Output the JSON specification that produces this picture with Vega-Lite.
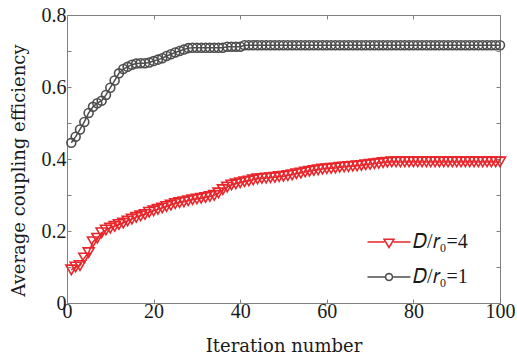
{
  "$schema": "https://vega.github.io/schema/vega-lite/v6.json",
  "width": 433,
  "height": 288,
  "autosize": {"type": "none"},
  "padding": {"left": 67, "top": 15, "right": 17, "bottom": 58},
  "background": "white",
  "config": {
    "view": {"stroke": "#808080", "strokeWidth": 1},
    "font": "Liberation Serif",
    "axis": {
      "grid": false,
      "domainColor": "#808080",
      "tickColor": "#808080",
      "tickSize": -4,
      "labelFlush": false,
      "labelFont": "Liberation Serif",
      "labelFontSize": 20,
      "labelColor": "#1a1a1a",
      "titleFont": "DejaVu Serif",
      "titleFontSize": 18,
      "titleFontWeight": "normal",
      "titleColor": "#1a1a1a"
    }
  },
  "data": {
    "values": [
      {"x":1,"y":0.445,"s":"D/r₀=1"},{"x":2,"y":0.462,"s":"D/r₀=1"},{"x":3,"y":0.482,"s":"D/r₀=1"},{"x":4,"y":0.503,"s":"D/r₀=1"},{"x":5,"y":0.528,"s":"D/r₀=1"},
      {"x":6,"y":0.545,"s":"D/r₀=1"},{"x":7,"y":0.555,"s":"D/r₀=1"},{"x":8,"y":0.562,"s":"D/r₀=1"},{"x":9,"y":0.578,"s":"D/r₀=1"},{"x":10,"y":0.598,"s":"D/r₀=1"},
      {"x":11,"y":0.618,"s":"D/r₀=1"},{"x":12,"y":0.638,"s":"D/r₀=1"},{"x":13,"y":0.650,"s":"D/r₀=1"},{"x":14,"y":0.656,"s":"D/r₀=1"},{"x":15,"y":0.662,"s":"D/r₀=1"},
      {"x":16,"y":0.665,"s":"D/r₀=1"},{"x":17,"y":0.666,"s":"D/r₀=1"},{"x":18,"y":0.666,"s":"D/r₀=1"},{"x":19,"y":0.668,"s":"D/r₀=1"},{"x":20,"y":0.672,"s":"D/r₀=1"},
      {"x":21,"y":0.676,"s":"D/r₀=1"},{"x":22,"y":0.680,"s":"D/r₀=1"},{"x":23,"y":0.686,"s":"D/r₀=1"},{"x":24,"y":0.691,"s":"D/r₀=1"},{"x":25,"y":0.696,"s":"D/r₀=1"},
      {"x":26,"y":0.700,"s":"D/r₀=1"},{"x":27,"y":0.704,"s":"D/r₀=1"},{"x":28,"y":0.708,"s":"D/r₀=1"},{"x":29,"y":0.709,"s":"D/r₀=1"},{"x":30,"y":0.709,"s":"D/r₀=1"},
      {"x":31,"y":0.709,"s":"D/r₀=1"},{"x":32,"y":0.709,"s":"D/r₀=1"},{"x":33,"y":0.709,"s":"D/r₀=1"},{"x":34,"y":0.709,"s":"D/r₀=1"},{"x":35,"y":0.709,"s":"D/r₀=1"},
      {"x":36,"y":0.709,"s":"D/r₀=1"},{"x":37,"y":0.712,"s":"D/r₀=1"},{"x":38,"y":0.712,"s":"D/r₀=1"},{"x":39,"y":0.712,"s":"D/r₀=1"},{"x":40,"y":0.712,"s":"D/r₀=1"},
      {"x":41,"y":0.716,"s":"D/r₀=1"},{"x":42,"y":0.716,"s":"D/r₀=1"},{"x":43,"y":0.716,"s":"D/r₀=1"},{"x":44,"y":0.716,"s":"D/r₀=1"},{"x":45,"y":0.716,"s":"D/r₀=1"},
      {"x":46,"y":0.716,"s":"D/r₀=1"},{"x":47,"y":0.716,"s":"D/r₀=1"},{"x":48,"y":0.716,"s":"D/r₀=1"},{"x":49,"y":0.716,"s":"D/r₀=1"},{"x":50,"y":0.716,"s":"D/r₀=1"},
      {"x":51,"y":0.716,"s":"D/r₀=1"},{"x":52,"y":0.716,"s":"D/r₀=1"},{"x":53,"y":0.716,"s":"D/r₀=1"},{"x":54,"y":0.716,"s":"D/r₀=1"},{"x":55,"y":0.716,"s":"D/r₀=1"},
      {"x":56,"y":0.716,"s":"D/r₀=1"},{"x":57,"y":0.716,"s":"D/r₀=1"},{"x":58,"y":0.716,"s":"D/r₀=1"},{"x":59,"y":0.716,"s":"D/r₀=1"},{"x":60,"y":0.716,"s":"D/r₀=1"},
      {"x":61,"y":0.716,"s":"D/r₀=1"},{"x":62,"y":0.716,"s":"D/r₀=1"},{"x":63,"y":0.716,"s":"D/r₀=1"},{"x":64,"y":0.716,"s":"D/r₀=1"},{"x":65,"y":0.716,"s":"D/r₀=1"},
      {"x":66,"y":0.716,"s":"D/r₀=1"},{"x":67,"y":0.716,"s":"D/r₀=1"},{"x":68,"y":0.716,"s":"D/r₀=1"},{"x":69,"y":0.716,"s":"D/r₀=1"},{"x":70,"y":0.716,"s":"D/r₀=1"},
      {"x":71,"y":0.716,"s":"D/r₀=1"},{"x":72,"y":0.716,"s":"D/r₀=1"},{"x":73,"y":0.716,"s":"D/r₀=1"},{"x":74,"y":0.716,"s":"D/r₀=1"},{"x":75,"y":0.716,"s":"D/r₀=1"},
      {"x":76,"y":0.716,"s":"D/r₀=1"},{"x":77,"y":0.716,"s":"D/r₀=1"},{"x":78,"y":0.716,"s":"D/r₀=1"},{"x":79,"y":0.716,"s":"D/r₀=1"},{"x":80,"y":0.716,"s":"D/r₀=1"},
      {"x":81,"y":0.716,"s":"D/r₀=1"},{"x":82,"y":0.716,"s":"D/r₀=1"},{"x":83,"y":0.716,"s":"D/r₀=1"},{"x":84,"y":0.716,"s":"D/r₀=1"},{"x":85,"y":0.716,"s":"D/r₀=1"},
      {"x":86,"y":0.716,"s":"D/r₀=1"},{"x":87,"y":0.716,"s":"D/r₀=1"},{"x":88,"y":0.716,"s":"D/r₀=1"},{"x":89,"y":0.716,"s":"D/r₀=1"},{"x":90,"y":0.716,"s":"D/r₀=1"},
      {"x":91,"y":0.716,"s":"D/r₀=1"},{"x":92,"y":0.716,"s":"D/r₀=1"},{"x":93,"y":0.716,"s":"D/r₀=1"},{"x":94,"y":0.716,"s":"D/r₀=1"},{"x":95,"y":0.716,"s":"D/r₀=1"},
      {"x":96,"y":0.716,"s":"D/r₀=1"},{"x":97,"y":0.716,"s":"D/r₀=1"},{"x":98,"y":0.716,"s":"D/r₀=1"},{"x":99,"y":0.716,"s":"D/r₀=1"},{"x":100,"y":0.716,"s":"D/r₀=1"},
      {"x":1,"y":0.092,"s":"D/r₀=4"},{"x":2,"y":0.100,"s":"D/r₀=4"},{"x":3,"y":0.104,"s":"D/r₀=4"},{"x":4,"y":0.125,"s":"D/r₀=4"},{"x":5,"y":0.140,"s":"D/r₀=4"},
      {"x":6,"y":0.170,"s":"D/r₀=4"},{"x":7,"y":0.180,"s":"D/r₀=4"},{"x":8,"y":0.195,"s":"D/r₀=4"},{"x":9,"y":0.203,"s":"D/r₀=4"},{"x":10,"y":0.208,"s":"D/r₀=4"},
      {"x":11,"y":0.213,"s":"D/r₀=4"},{"x":12,"y":0.218,"s":"D/r₀=4"},{"x":13,"y":0.222,"s":"D/r₀=4"},{"x":14,"y":0.228,"s":"D/r₀=4"},{"x":15,"y":0.233,"s":"D/r₀=4"},
      {"x":16,"y":0.238,"s":"D/r₀=4"},{"x":17,"y":0.242,"s":"D/r₀=4"},{"x":18,"y":0.246,"s":"D/r₀=4"},{"x":19,"y":0.252,"s":"D/r₀=4"},{"x":20,"y":0.256,"s":"D/r₀=4"},
      {"x":21,"y":0.260,"s":"D/r₀=4"},{"x":22,"y":0.264,"s":"D/r₀=4"},{"x":23,"y":0.268,"s":"D/r₀=4"},{"x":24,"y":0.272,"s":"D/r₀=4"},{"x":25,"y":0.276,"s":"D/r₀=4"},
      {"x":26,"y":0.279,"s":"D/r₀=4"},{"x":27,"y":0.281,"s":"D/r₀=4"},{"x":28,"y":0.284,"s":"D/r₀=4"},{"x":29,"y":0.287,"s":"D/r₀=4"},{"x":30,"y":0.289,"s":"D/r₀=4"},
      {"x":31,"y":0.291,"s":"D/r₀=4"},{"x":32,"y":0.293,"s":"D/r₀=4"},{"x":33,"y":0.296,"s":"D/r₀=4"},{"x":34,"y":0.299,"s":"D/r₀=4"},{"x":35,"y":0.306,"s":"D/r₀=4"},
      {"x":36,"y":0.315,"s":"D/r₀=4"},{"x":37,"y":0.322,"s":"D/r₀=4"},{"x":38,"y":0.328,"s":"D/r₀=4"},{"x":39,"y":0.331,"s":"D/r₀=4"},{"x":40,"y":0.334,"s":"D/r₀=4"},
      {"x":41,"y":0.337,"s":"D/r₀=4"},{"x":42,"y":0.339,"s":"D/r₀=4"},{"x":43,"y":0.342,"s":"D/r₀=4"},{"x":44,"y":0.345,"s":"D/r₀=4"},{"x":45,"y":0.346,"s":"D/r₀=4"},
      {"x":46,"y":0.347,"s":"D/r₀=4"},{"x":47,"y":0.348,"s":"D/r₀=4"},{"x":48,"y":0.349,"s":"D/r₀=4"},{"x":49,"y":0.351,"s":"D/r₀=4"},{"x":50,"y":0.352,"s":"D/r₀=4"},
      {"x":51,"y":0.354,"s":"D/r₀=4"},{"x":52,"y":0.356,"s":"D/r₀=4"},{"x":53,"y":0.359,"s":"D/r₀=4"},{"x":54,"y":0.361,"s":"D/r₀=4"},{"x":55,"y":0.364,"s":"D/r₀=4"},
      {"x":56,"y":0.366,"s":"D/r₀=4"},{"x":57,"y":0.368,"s":"D/r₀=4"},{"x":58,"y":0.370,"s":"D/r₀=4"},{"x":59,"y":0.372,"s":"D/r₀=4"},{"x":60,"y":0.373,"s":"D/r₀=4"},
      {"x":61,"y":0.374,"s":"D/r₀=4"},{"x":62,"y":0.375,"s":"D/r₀=4"},{"x":63,"y":0.377,"s":"D/r₀=4"},{"x":64,"y":0.378,"s":"D/r₀=4"},{"x":65,"y":0.379,"s":"D/r₀=4"},
      {"x":66,"y":0.380,"s":"D/r₀=4"},{"x":67,"y":0.381,"s":"D/r₀=4"},{"x":68,"y":0.382,"s":"D/r₀=4"},{"x":69,"y":0.384,"s":"D/r₀=4"},{"x":70,"y":0.385,"s":"D/r₀=4"},
      {"x":71,"y":0.387,"s":"D/r₀=4"},{"x":72,"y":0.388,"s":"D/r₀=4"},{"x":73,"y":0.390,"s":"D/r₀=4"},{"x":74,"y":0.391,"s":"D/r₀=4"},{"x":75,"y":0.392,"s":"D/r₀=4"},
      {"x":76,"y":0.392,"s":"D/r₀=4"},{"x":77,"y":0.392,"s":"D/r₀=4"},{"x":78,"y":0.392,"s":"D/r₀=4"},{"x":79,"y":0.392,"s":"D/r₀=4"},{"x":80,"y":0.392,"s":"D/r₀=4"},
      {"x":81,"y":0.392,"s":"D/r₀=4"},{"x":82,"y":0.392,"s":"D/r₀=4"},{"x":83,"y":0.392,"s":"D/r₀=4"},{"x":84,"y":0.392,"s":"D/r₀=4"},{"x":85,"y":0.392,"s":"D/r₀=4"},
      {"x":86,"y":0.392,"s":"D/r₀=4"},{"x":87,"y":0.392,"s":"D/r₀=4"},{"x":88,"y":0.392,"s":"D/r₀=4"},{"x":89,"y":0.392,"s":"D/r₀=4"},{"x":90,"y":0.392,"s":"D/r₀=4"},
      {"x":91,"y":0.392,"s":"D/r₀=4"},{"x":92,"y":0.392,"s":"D/r₀=4"},{"x":93,"y":0.392,"s":"D/r₀=4"},{"x":94,"y":0.392,"s":"D/r₀=4"},{"x":95,"y":0.392,"s":"D/r₀=4"},
      {"x":96,"y":0.392,"s":"D/r₀=4"},{"x":97,"y":0.392,"s":"D/r₀=4"},{"x":98,"y":0.392,"s":"D/r₀=4"},{"x":99,"y":0.392,"s":"D/r₀=4"},{"x":100,"y":0.392,"s":"D/r₀=4"}
    ]
  },
  "resolve": {"axis": {"x": "independent", "y": "independent"}},
  "layer": [
    {
      "mark": {"type": "line", "strokeWidth": 1.5},
      "encoding": {
        "x": {"field": "x", "type": "quantitative", "scale": {"domain": [0, 100], "nice": false}, "axis": {"values": [0, 20, 40, 60, 80, 100], "title": "Iteration number", "labelPadding": 2, "titlePadding": 16}},
        "y": {"field": "y", "type": "quantitative", "scale": {"domain": [0, 0.8], "nice": false}, "axis": {"values": [0, 0.1, 0.2, 0.3, 0.4, 0.5, 0.6, 0.7, 0.8], "labelExpr": "round(datum.value * 10) % 2 == 0 ? format(datum.value, '~g') : ''", "title": "Average coupling efficiency", "labelPadding": 5, "titlePadding": 13, "titleY": 155}},
        "color": {"field": "s", "type": "nominal", "scale": {"domain": ["D/r₀=4", "D/r₀=1"], "range": ["#e8262b", "#4d4d4d"]},
          "legend": {
            "orient": "none", "legendX": 312, "legendY": 217, "title": null, "padding": 0,
            "symbolSize": 100, "symbolStrokeWidth": 1.5, "labelOffset": 14, "rowPadding": 15,
            "labelFont": "Liberation Serif", "labelFontSize": 20, "labelColor": "#1a1a1a",
            "labelExpr": "datum.value == 'D/r₀=4' ? '𝐷/𝑟₀=4' : '𝐷/𝑟₀=1'",
            "symbolType": {"expr": "datum.value == 'D/r₀=4' ? 'M-4.3,0L-0.9,0M0.9,0L4.3,0M-1,-0.55L1,-0.55L0,1.1Z' : 'M-4.3,0L-0.7,0M0.7,0L4.3,0M0.7,0L0.606,0.35L0.35,0.606L0,0.7L-0.35,0.606L-0.606,0.35L-0.7,0L-0.606,-0.35L-0.35,-0.606L0,-0.7L0.35,-0.606L0.606,-0.35Z'"}
          }
        },
        "detail": {"field": "s"}
      }
    },
    {
      "transform": [{"filter": "datum.s == 'D/r₀=4'"}],
      "mark": {"type": "point", "shape": "triangle-down", "filled": false, "stroke": "#e8262b", "strokeWidth": 1.6, "size": 120, "opacity": 1},
      "encoding": {
        "x": {"field": "x", "type": "quantitative", "axis": null},
        "y": {"field": "y", "type": "quantitative", "axis": null}
      }
    },
    {
      "transform": [{"filter": "datum.s == 'D/r₀=1'"}],
      "mark": {"type": "point", "shape": "circle", "filled": false, "stroke": "#4d4d4d", "strokeWidth": 1.6, "size": 80, "opacity": 1},
      "encoding": {
        "x": {"field": "x", "type": "quantitative", "axis": null},
        "y": {"field": "y", "type": "quantitative", "axis": null}
      }
    },
    {
      "mark": {"type": "point", "opacity": 0},
      "encoding": {
        "x": {"field": "x", "type": "quantitative", "axis": {"orient": "top", "values": [0, 20, 40, 60, 80, 100], "labels": false, "title": null}},
        "y": {"field": "y", "type": "quantitative", "axis": {"orient": "right", "values": [0, 0.1, 0.2, 0.3, 0.4, 0.5, 0.6, 0.7, 0.8], "labels": false, "title": null}}
      }
    }
  ]
}
